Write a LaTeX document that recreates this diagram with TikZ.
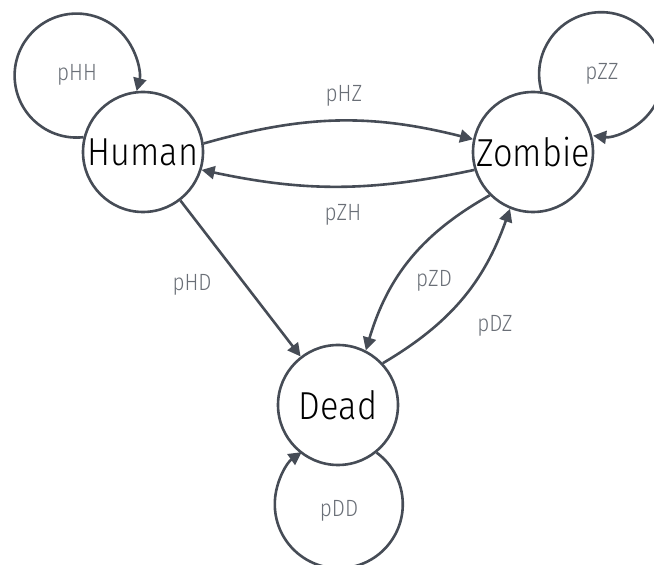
\documentclass[tikz,border=0pt]{standalone}
\usepackage{fontspec}
\setmainfont{Fira Sans Light}
\newfontfamily\statefont{Fira Sans Light}[FakeStretch=0.88]
\usetikzlibrary{arrows.meta}
\definecolor{edgecol}{HTML}{464C56}
\definecolor{labcol}{HTML}{6A6F77}
\begin{document}
\begin{tikzpicture}[x=1pt,y=1pt,
  state/.style={circle, draw=edgecol, line width=2.6pt, minimum size=120pt,
    inner sep=0pt, text=black, font=\statefont\fontsize{39}{40}\selectfont},
  arr/.style={draw=edgecol, line width=2.6pt,
    -{Triangle[length=13pt,width=13pt]}},
  lab/.style={text=labcol, anchor=base, inner sep=0pt,
    font=\statefont\fontsize{23.5}{24}\selectfont}]
\useasboundingbox (0,0) rectangle (654,565);

% states
\node[state] (h) at (143,413) {Human};
\node[state] (z) at (533,413) {Zombie};
\node[state] (d) at (338,160) {Dead};

% self loops
\draw[arr] (h.166) arc[start angle=276.4, end angle=-14.5, radius=62];
\draw[arr] (z.82.5) arc[start angle=196, end angle=-97.4, radius=62];
\draw[arr] (d.-51.6) arc[start angle=53.8, end angle=-234.6, radius=64];

% transitions between states
\draw[arr] (h.8) to[bend left=15] (z.168);
\draw[arr] (z.197) to[bend left=12] (h.-17);
\draw[arr] (h) -- (d);
\draw[arr] (z.225) to[bend right=22] (d.63);
\draw[arr] (d.43) to[bend right=20] (z.248);

% probabilities (placed on their baselines)
\node[lab] (lhh) at (77,484) {pHH};
\node[lab] (lzz) at (602,485) {pZZ};
\node[lab] (ldd) at (339,48) {pDD};
\node[lab] (lhz) at (344,463) {pHZ};
\node[lab] (lzh) at (343,344) {pZH};
\node[lab] (lhd) at (192,274) {pHD};
\node[lab] (lzd) at (434,278) {pZD};
\node[lab] (ldz) at (495,233) {pDZ};
\end{tikzpicture}
\end{document}
